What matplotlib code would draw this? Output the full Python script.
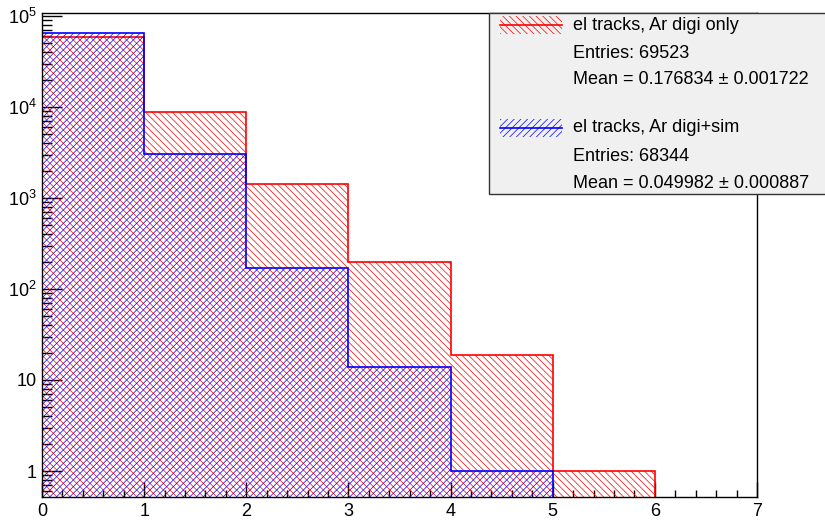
import numpy as np
import matplotlib
matplotlib.use("Agg")
import matplotlib.pyplot as plt
from matplotlib.patches import Rectangle
from matplotlib.ticker import FixedLocator, LogLocator, NullFormatter, MultipleLocator

plt.rcParams["font.family"] = ["Liberation Sans", "DejaVu Sans"]
plt.rcParams["mathtext.fontset"] = "custom"
plt.rcParams["mathtext.rm"] = "Liberation Sans"
plt.rcParams["mathtext.it"] = "Liberation Sans:italic"
plt.rcParams["hatch.linewidth"] = 0.5

# Number of electron tracks per event, bins 0..7
bin_edges = [0, 1, 2, 3, 4, 5, 6, 7]
digi_only = [59133, 8730, 1440, 200, 19, 1, 0]
digi_sim = [65129, 3030, 170, 14, 1, 0, 0]

legend_labels = ["el tracks, Ar digi only", "el tracks, Ar digi+sim"]
legend_entries = ["Entries: 69523", "Entries: 68344"]
legend_means = ["Mean = 0.176834 \u00b1 0.001722", "Mean = 0.049982 \u00b1 0.000887"]

y_min, y_max = 0.518, 1.07e5
red = "#ff0000"
blue = "#0000ff"
red_hatch = "\\" * 5
blue_hatch = "/" * 5
FS = 13

W, H = 825, 521
fig = plt.figure(figsize=(W / 100, H / 100), dpi=100)
ax = fig.add_axes([42 / W, 1 - 497 / H, (757 - 42) / W, (497 - 13.3) / H])
ax.set_yscale("log")
ax.set_xlim(0, 7)
ax.set_ylim(y_min, y_max)


def draw_hist(values, color, hatch, z):
    vals = np.maximum(np.asarray(values, dtype=float), y_min * 0.5)
    ax.stairs(vals, bin_edges, baseline=y_min * 0.5, fill=True,
              facecolor="none", edgecolor=color, hatch=hatch,
              linewidth=0, zorder=z)
    ax.stairs(vals, bin_edges, baseline=y_min * 0.5, fill=False,
              edgecolor=color, linewidth=1.2, zorder=z + 0.5)


draw_hist(digi_only, red, red_hatch, 2)
draw_hist(digi_sim, blue, blue_hatch, 3)

for s in ax.spines.values():
    s.set_linewidth(1.0)
    s.set_color("black")
    s.set_zorder(5)

ax.xaxis.set_major_locator(MultipleLocator(1))
ax.xaxis.set_minor_locator(MultipleLocator(0.2))
ax.yaxis.set_major_locator(FixedLocator([1, 10, 100, 1e3, 1e4, 1e5]))
ax.yaxis.set_minor_locator(LogLocator(base=10, subs=np.arange(2, 10)))
ax.yaxis.set_minor_formatter(NullFormatter())
ax.set_yticklabels(["1", "10", r"$\mathregular{10^{2}}$", r"$\mathregular{10^{3}}$",
                    r"$\mathregular{10^{4}}$", r"$\mathregular{10^{5}}$"])
ax.tick_params(axis="both", which="both", direction="in", labelsize=FS,
               top=False, right=False, colors="black")
ax.tick_params(axis="x", which="major", length=10.8, width=1.0, pad=4)
ax.tick_params(axis="x", which="minor", length=5, width=1.0)
ax.tick_params(axis="y", which="major", length=14.4, width=1.0, pad=4)
ax.tick_params(axis="y", which="minor", length=7.2, width=1.0)

# Statistics box
def fx(px):
    return px / W


def fy(py):
    return 1 - py / H


fig.patches.append(Rectangle((fx(489), fy(194)), fx(W + 10) - fx(489), fy(12.7) - fy(194),
                             transform=fig.transFigure, facecolor="#f0f0f0",
                             edgecolor="#333333", linewidth=1.0, zorder=10))

rows = [(25, 53, 79), (128, 157, 183)]
for i, (color, hatch) in enumerate([(red, red_hatch), (blue, blue_hatch)]):
    y0, y1, y2 = rows[i]
    fig.patches.append(Rectangle((fx(500), fy(y0 + 9)), fx(562) - fx(500), fy(y0 - 9) - fy(y0 + 9),
                                 transform=fig.transFigure, facecolor="none",
                                 edgecolor=color, hatch=hatch, linewidth=0, zorder=11))
    fig.add_artist(plt.Line2D([fx(500), fx(562)], [fy(y0), fy(y0)], color=color,
                              linewidth=1.2, transform=fig.transFigure, zorder=12))
    fig.text(fx(573), fy(y0), legend_labels[i], fontsize=FS, va="center", ha="left", zorder=12)
    fig.text(fx(573), fy(y1), legend_entries[i], fontsize=FS, va="center", ha="left", zorder=12)
    fig.text(fx(573), fy(y2), legend_means[i], fontsize=FS, va="center", ha="left", zorder=12)

fig.savefig("out.png", dpi=100, facecolor="white")
